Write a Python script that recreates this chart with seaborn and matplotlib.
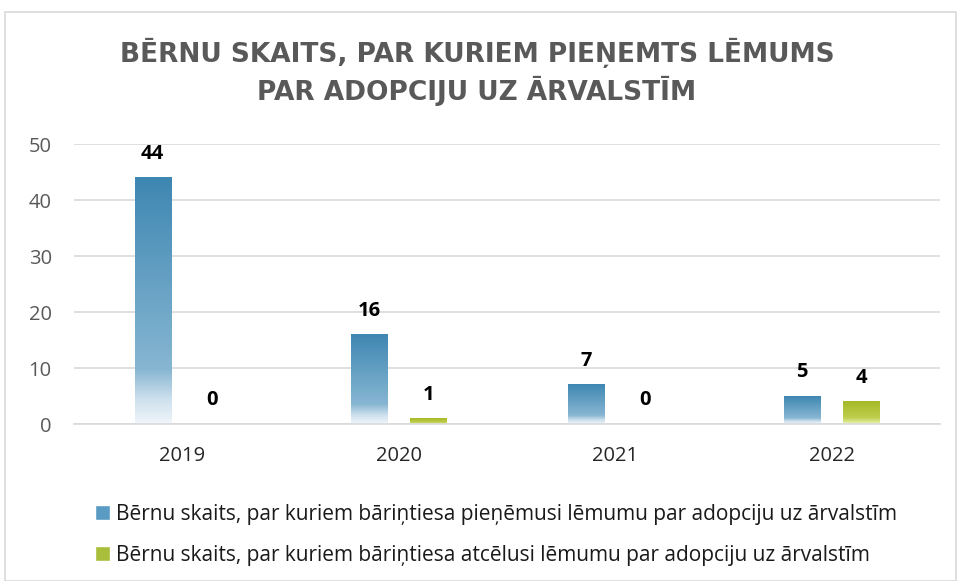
import numpy as np
import pandas as pd
import matplotlib
matplotlib.use("Agg")
import matplotlib.pyplot as plt
from matplotlib.patches import Rectangle, Patch
import seaborn as sns

# ---- data ----
years = ["2019", "2020", "2021", "2022"]
decided = [44, 16, 7, 5]
revoked = [0, 1, 0, 4]
series_names = [
    "Bērnu skaits, par kuriem bāriņtiesa pieņēmusi lēmumu par adopciju uz ārvalstīm",
    "Bērnu skaits, par kuriem bāriņtiesa atcēlusi lēmumu par adopciju uz ārvalstīm",
]
title = "BĒRNU SKAITS, PAR KURIEM PIEŅEMTS LĒMUMS\nPAR ADOPCIJU UZ ĀRVALSTĪM"
yticks = [0, 10, 20, 30, 40, 50]

df = pd.DataFrame({
    "year": years * 2,
    "value": decided + revoked,
    "series": [series_names[0]] * len(years) + [series_names[1]] * len(years),
})

sns.set_theme(style="white")
plt.rcParams["font.family"] = ["Open Sans", "DejaVu Sans"]

fig = plt.figure(figsize=(9.58, 5.81), dpi=100)
ax = fig.add_axes([74 / 958, 1 - 424 / 581, (940 - 74) / 958, (424 - 144) / 581])

blue_mid = "#5A9BC3"
green_mid = "#A9BE3A"
sns.barplot(data=df, x="year", y="value", hue="series", order=years,
            hue_order=series_names, palette=[blue_mid, green_mid],
            width=0.546, gap=0.39, legend=False, ax=ax, saturation=1)

def grad_cmap(stops):
    fr = np.linspace(0, 1, 256)
    cols = np.zeros((256, 3))
    sf = [s[0] for s in stops]
    for i in range(3):
        cols[:, i] = np.interp(fr, sf, [s[1][i] for s in stops])
    return cols / 255.0

blue_grad = grad_cmap([(0.0, (240, 245, 250)), (0.1, (205, 224, 237)),
                       (0.22, (135, 182, 210)), (1.0, (62, 135, 178))])
green_grad = grad_cmap([(0.0, (240, 245, 200)), (0.12, (215, 228, 130)),
                        (0.3, (190, 205, 75)), (1.0, (165, 185, 40))])

n = len(years)
for i, p in enumerate(ax.patches):
    h = p.get_height()
    g = blue_grad if i < n else green_grad
    if h > 0:
        img = g[::-1].reshape(256, 1, 3)
        ax.imshow(img, extent=[p.get_x(), p.get_x() + p.get_width(), 0, h],
                  aspect="auto", zorder=p.get_zorder() + 0.1, interpolation="bilinear")
    p.set_alpha(0)

ax.set_xlim(-0.5, n - 0.5)
ax.set_ylim(0, 50)

# value labels
for i, p in enumerate(ax.patches):
    v = (decided + revoked)[i]
    ax.annotate(str(v), (p.get_x() + p.get_width() / 2, p.get_height()),
                xytext=(0, 17), textcoords="offset points",
                ha="center", va="center", fontsize=14.5, fontweight="bold",
                color="black")

ax.set_yticks(yticks)
ax.set_yticklabels([str(t) for t in yticks])
ax.yaxis.grid(True, color="#D9D9D9", linewidth=1.2)
ax.set_axisbelow(True)
for s in ["left", "right", "top"]:
    ax.spines[s].set_visible(False)
ax.spines["bottom"].set_color("#D9D9D9")
ax.spines["bottom"].set_linewidth(1.2)
ax.tick_params(axis="y", labelsize=14.5, labelcolor="#595959", length=0, pad=16)
ax.tick_params(axis="x", labelsize=14.5, labelcolor="#262626", length=0, pad=16)
ax.set_xlabel("")
ax.set_ylabel("")

fig.text(477 / 958, 1 - 72 / 581, title, ha="center", va="center",
         fontsize=19, fontweight="bold", color="#595959",
         family=["DejaVu Sans"], linespacing=1.35)

handles = [Patch(facecolor=blue_mid), Patch(facecolor=green_mid)]
fig.legend(handles, series_names, loc="upper left",
           bbox_to_anchor=(76 / 958, 1 - 485 / 581), frameon=False,
           fontsize=15, handlelength=0.72, handleheight=0.72,
           handletextpad=0.3, labelspacing=0.95, labelcolor="#1a1a1a")

fig.patches.append(Rectangle((5 / 958, 0), 951 / 958, 1 - 12 / 581,
                             transform=fig.transFigure, fill=False,
                             edgecolor="#D9D9D9", linewidth=1.2))

fig.savefig("out.png", dpi=100)
